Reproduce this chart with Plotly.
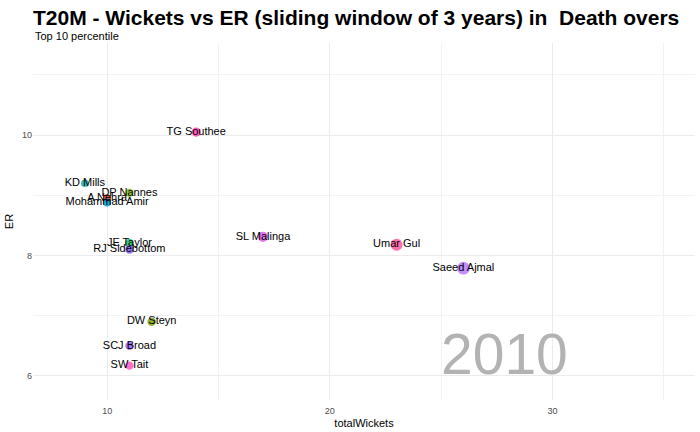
import plotly.graph_objects as go

players = ["TG Southee", "KD Mills", "DP Nannes", "A Nehra", "Mohammad Amir",
           "JE Taylor", "RJ Sidebottom", "SL Malinga", "Umar Gul", "Saeed Ajmal",
           "DW Steyn", "SCJ Broad", "SW Tait"]
total_wickets = [14, 9, 11, 10, 10, 11, 11, 17, 23, 26, 12, 11, 11]
er = [10.05, 9.20, 9.04, 8.95, 8.88, 8.21, 8.10, 8.31, 8.18, 7.79, 6.90, 6.50, 6.17]
colors = ["#FF4FAF", "#1FB3B8", "#8CBE1A", "#E8463E", "#0A9BD8",
          "#22C46E", "#8B63F0", "#E266F2", "#FF5FA2", "#BD80FF",
          "#86A820", "#A064F2", "#FF61C8"]
year_label = "2010"

sizes = [5 + 0.3 * w for w in total_wickets]

fig = go.Figure()
fig.add_trace(go.Scatter(
    x=total_wickets, y=er, mode="markers+text",
    text=players, textposition="middle center",
    textfont=dict(family="Liberation Sans", size=11, color="black"),
    marker=dict(size=sizes, color=colors, opacity=0.9, line=dict(width=0)),
    showlegend=False, cliponaxis=False, hoverinfo="skip",
))

fig.add_annotation(
    x=1, y=0, xref="paper", yref="paper", xanchor="right", yanchor="bottom",
    text=year_label, showarrow=False,
    xshift=-125, yshift=12,
    font=dict(family="Liberation Sans", size=57, color="#B3B3B3"),
)

fig.add_annotation(
    x=0, y=1 + 7/357, xref="paper", yref="paper",
    xanchor="left", yanchor="middle", showarrow=False,
    text="Top 10 percentile",
    font=dict(family="Liberation Sans", size=11, color="black"),
)

fig.update_layout(
    width=700, height=432,
    margin=dict(l=33, r=5, t=43, b=32),
    paper_bgcolor="white", plot_bgcolor="white",
    title=dict(
        text="<b>T20M - Wickets vs ER (sliding window of 3 years) in  Death overs</b>",
        x=0, xanchor="left", pad=dict(l=33), y=1 - 18/432, yanchor="middle",
        font=dict(family="Liberation Sans", size=21, color="black"),
    ),
    xaxis=dict(
        range=[6.67, 36.4], dtick=10, tick0=0,
        showgrid=True, gridcolor="#EBEBEB", gridwidth=1.1,
        minor=dict(dtick=5, tick0=0, showgrid=True, gridcolor="#F2F2F2", gridwidth=0.6),
        zeroline=False, showline=False, ticks="outside", ticklen=2, tickcolor="rgba(0,0,0,0)",
        tickfont=dict(family="Liberation Sans", size=9, color="#4D4D4D"),
        title=dict(text="totalWickets", standoff=4,
                   font=dict(family="Liberation Sans", size=11, color="black")),
    ),
    yaxis=dict(
        range=[5.6, 11.53], dtick=2, tick0=0,
        showgrid=True, gridcolor="#EBEBEB", gridwidth=1.1,
        minor=dict(dtick=1, tick0=0, showgrid=True, gridcolor="#F2F2F2", gridwidth=0.6),
        zeroline=False, showline=False, ticks="",
        tickfont=dict(family="Liberation Sans", size=9, color="#4D4D4D"),
        title=dict(text="ER", standoff=6,
                   font=dict(family="Liberation Sans", size=11, color="black")),
    ),
)

fig.write_html("out.html", config={"displayModeBar": False},
               post_script="document.body.style.margin='0px';")
